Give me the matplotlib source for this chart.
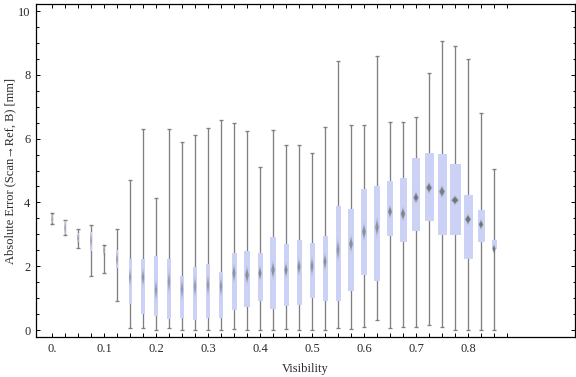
import matplotlib
matplotlib.use("Agg")
import matplotlib.pyplot as plt
from matplotlib.patches import Rectangle, Polygon
from matplotlib.ticker import FixedLocator, MultipleLocator

# ---------------- data ----------------
visibility = [0.000, 0.025, 0.050, 0.075, 0.100, 0.125, 0.150, 0.175, 0.200,
              0.225, 0.250, 0.275, 0.300, 0.325, 0.350, 0.375, 0.400, 0.425,
              0.450, 0.475, 0.500, 0.525, 0.550, 0.575, 0.600, 0.625, 0.650,
              0.675, 0.700, 0.725, 0.750, 0.775, 0.800, 0.825, 0.850]
whisker_min = [3.31, 2.97, 2.58, 1.70, 1.80, 0.92, 0.05, 0.05, 0.00,
               0.05, 0.00, 0.00, 0.00, 0.00, 0.02, 0.00, 0.00, 0.00,
               0.02, 0.00, 0.00, 0.00, 0.05, 0.02, 0.08, 0.30, 0.05,
               0.08, 0.08, 0.15, 0.08, 0.00, 0.00, 0.00, 0.00]
q1 = [3.36, 3.00, 2.77, 2.49, 2.40, 1.95, 0.82, 0.49, 0.45,
      0.34, 0.39, 0.32, 0.39, 0.39, 0.64, 0.73, 0.90, 0.65,
      0.74, 0.77, 1.01, 0.92, 0.92, 1.23, 1.73, 1.55, 2.96,
      2.77, 3.11, 3.43, 2.99, 2.99, 2.24, 2.77, 2.54]
median = [3.47, 3.20, 2.88, 2.80, 2.50, 2.22, 1.65, 1.65, 1.25,
          1.51, 1.28, 1.36, 1.41, 1.36, 1.78, 1.72, 1.78, 1.88,
          1.88, 1.98, 2.00, 2.14, 2.51, 2.70, 3.08, 3.22, 3.71,
          3.64, 4.15, 4.46, 4.34, 4.07, 3.47, 3.31, 2.54]
q3 = [3.62, 3.42, 3.03, 3.08, 2.61, 2.51, 2.23, 2.22, 2.32,
      2.23, 1.69, 1.97, 2.07, 1.82, 2.41, 2.48, 2.41, 2.92,
      2.70, 2.82, 2.73, 2.95, 3.89, 3.79, 4.42, 4.51, 4.67,
      4.76, 5.39, 5.54, 5.51, 5.19, 4.23, 3.75, 2.82]
whisker_max = [3.66, 3.44, 3.16, 3.29, 2.66, 3.16, 4.69, 6.29, 4.15,
               6.29, 5.88, 6.10, 6.32, 6.57, 6.48, 6.23, 5.10, 6.26,
               5.79, 5.79, 5.54, 6.35, 8.42, 6.42, 6.42, 8.58, 6.51,
               6.51, 6.67, 8.05, 9.07, 8.89, 8.49, 6.79, 5.04]
# median confidence half-width (notch), in mm
notch = [0.33, 0.33, 0.24, 0.30, 0.25, 0.28, 0.33, 0.33, 0.39,
         0.42, 0.39, 0.39, 0.39, 0.37, 0.34, 0.31, 0.26, 0.31,
         0.26, 0.31, 0.33, 0.31, 0.39, 0.29, 0.30, 0.33, 0.22,
         0.24, 0.19, 0.19, 0.21, 0.16, 0.18, 0.17, 0.17]

x_major = [0.0, 0.1, 0.2, 0.3, 0.4, 0.5, 0.6, 0.7, 0.8]
x_labels = ["0.", "0.1", "0.2", "0.3", "0.4", "0.5", "0.6", "0.7", "0.8"]
y_major = [0, 2, 4, 6, 8, 10]
y_labels = ["0", "2", "4", "6", "8", "10"]

# ---------------- style ----------------
PX = 1.0 / 520.0  # x data units per pixel
box_width_px = [1.0, 1.0, 1.0, 1.3, 1.0, 2.4, 3.0, 4, 4, 4, 4, 4, 4, 4, 5,
                6, 5, 6, 5, 5, 5, 5, 5, 6, 6, 6, 6, 7, 8, 9, 9, 11, 9, 7, 5]
box_color = "#CBD2F5"
whisker_color = "#808080"
diamond_color = "#6a6a6a"
cap_half = 2.4 * PX
serif = ["Liberation Serif", "DejaVu Serif"]
text_color = "#2a2a2a"

fig = plt.figure(figsize=(5.76, 3.77), dpi=100)
ax = fig.add_axes([36 / 576, 40 / 377, 539 / 576, 333 / 377])

for i, x in enumerate(visibility):
    ax.plot([x, x], [whisker_min[i], whisker_max[i]], color=whisker_color,
            lw=0.95, zorder=2, solid_capstyle="butt")
    for yy in (whisker_min[i], whisker_max[i]):
        ax.plot([x - cap_half, x + cap_half], [yy, yy], color=whisker_color,
                lw=0.95, zorder=2, solid_capstyle="butt")
    w = box_width_px[i] * PX
    ax.add_patch(Rectangle((x - w / 2, q1[i]), w, q3[i] - q1[i],
                           facecolor=box_color, edgecolor="none", zorder=3))
    dw = max(w * 0.28, 0.6 * PX)
    h = notch[i]
    m = median[i]
    strength = min(1.0, 0.18 / h)
    ax.add_patch(Polygon([(x - dw * 1.3, m), (x, m + h), (x + dw * 1.3, m),
                          (x, m - h)], closed=True,
                         facecolor=diamond_color, edgecolor="none",
                         alpha=0.22 * strength + 0.08, zorder=4))
    ax.add_patch(Polygon([(x - dw, m), (x, m + h * 0.65), (x + dw, m),
                          (x, m - h * 0.65)], closed=True,
                         facecolor=diamond_color, edgecolor="none",
                         alpha=0.75 * strength + 0.1, zorder=5))

ax.set_xlim(-16 * PX, 523 * PX)
ax.set_ylim(-0.219, 10.22)

ax.xaxis.set_major_locator(FixedLocator(x_major))
ax.set_xticklabels(x_labels)
ax.xaxis.set_minor_locator(FixedLocator([v for v in visibility] + [0.875]))
ax.yaxis.set_major_locator(FixedLocator(y_major))
ax.set_yticklabels(y_labels)
ax.yaxis.set_minor_locator(MultipleLocator(0.5))

ax.tick_params(which="both", direction="in", top=True, right=True,
               width=0.7, color="black")
ax.tick_params(axis="x", which="both", length=3.0)
ax.tick_params(axis="y", which="major", length=3.0)
ax.tick_params(axis="y", which="minor", length=1.8)
ax.tick_params(axis="both", which="major", labelsize=9, labelcolor=text_color,
               pad=4)
for lab in ax.get_xticklabels() + ax.get_yticklabels():
    lab.set_family(serif)

for sp in ax.spines.values():
    sp.set_linewidth(0.9)
    sp.set_color("black")

ax.set_xlabel("Visibility", fontsize=9, family=serif, color=text_color,
              labelpad=6)
ax.set_ylabel("Absolute Error (Scan\u2192Ref, B) [mm]", fontsize=9,
              family=serif, color=text_color, labelpad=1)

fig.savefig("out.png", dpi=100)
